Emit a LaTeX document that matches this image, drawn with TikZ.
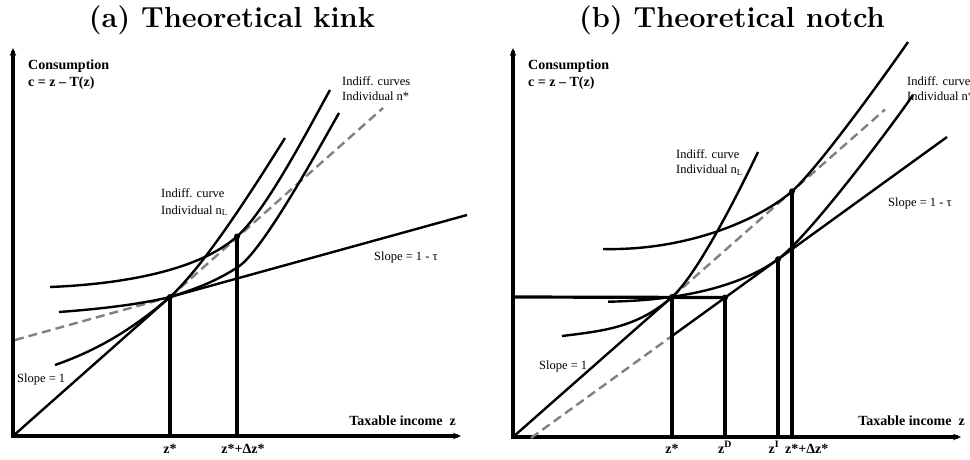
\documentclass[tikz,border=0pt]{standalone}
\usepackage{fontspec}
\newfontfamily\timesfont{Liberation Serif}
\usepackage{tikz}
\usetikzlibrary{arrows.meta}

\begin{document}
\begin{tikzpicture}[x=1pt, y=-1pt,
    axis/.style={line width=3.2pt, line cap=rect, -{Stealth[length=8pt,width=6.5pt]}},
    budget/.style={line width=2.4pt},
    icurve/.style={line width=2.4pt},
    extdash/.style={line width=2.4pt, black!50, dash pattern=on 9pt off 5pt},
    zline/.style={line width=3.2pt},
    dot/.style={circle, fill, inner sep=0pt, minimum size=6pt},
    lbl/.style={inner sep=0pt, anchor=base west, font=\timesfont\fontsize{12.5}{14}\selectfont},
    blbl/.style={inner sep=0pt, font=\timesfont\bfseries\fontsize{14}{16}\selectfont},
    ttl/.style={inner sep=0pt, anchor=base, font=\bfseries\fontsize{29}{32}\selectfont}]
    \useasboundingbox (0,0) rectangle (970,459);
    \clip (0,0) rectangle (970,459);

    % 标题
    \node[ttl] (ta) at (232,27) {(a) Theoretical kink};
    \node[ttl] (tb) at (732,27) {(b) Theoretical notch};

    %% (a) kink
    \coordinate (Oa) at (13,436);
    \coordinate (za) at (170,297);
    \coordinate (zda) at (237,236.5);

    % 坐标轴
    \draw[axis] (Oa) -- (13,48);
    \draw[axis] (Oa) -- (461,436);

    % 预算线与虚线延长
    \draw[budget] (Oa) -- (za) -- (467,215);
    \draw[extdash] (15,340) -- (za);
    \draw[extdash] (za) -- (383,108);

    % 无差异曲线
    \draw[icurve] (55,365) .. controls (95,351) and (130,331.4) .. (za)
        .. controls (205,265) and (255,186) .. (285,138);
    \draw[icurve] (59,312) .. controls (100,309) and (140,304.3) .. (za)
        .. controls (193,289.7) and (215,282) .. (238,267)
        .. controls (263,251) and (319,148) .. (339,113);
    \draw[icurve] (50,287) .. controls (100,285) and (192,276.3) .. (zda)
        .. controls (267,210) and (312,122) .. (330,90);

    % 竖线与点
    \foreach \p in {za,zda} {
        \draw[zline] (\p) -- (\p |- Oa);
        \node[dot] (d\p) at (\p) {};
    }

    % 文字
    \node[blbl, anchor=base west] (ya) at (28,69) {Consumption};
    \node[blbl, anchor=base west] (yb) at (28,86) {c = z – T(z)};
    \node[lbl] (ica) at (342,85) {Indiff. curves};
    \node[lbl] (icb) at (342,100.7) {Individual n*};
    \node[lbl] (nla) at (161,197.7) {Indiff. curve};
    \node[lbl] (nlb) at (161,214) {Individual n\textsubscript{L}};
    \node[lbl] (sta) at (374,260) {Slope = 1 - τ};
    \node[lbl] (soa) at (17,382.7) {Slope = 1};
    \node[blbl, anchor=base east] (xa) at (456,425) {Taxable income\ \ z};
    \node[blbl, anchor=base] (la1) at (170,453) {z*};
    \node[blbl, anchor=base] (la2) at (243,453) {z*+Δz*};

    %% (b) notch
    \coordinate (Ob) at (513,437);
    \coordinate (zb) at (672,297);
    \coordinate (zDb) at (725,297.5);
    \coordinate (zIb) at (778,259.2);
    \coordinate (zdb) at (792,191.3);

    % 坐标轴
    \draw[axis] (Ob) -- (513,48);
    \draw[axis] (Ob) -- (961,437);

    % 预算线与虚线延长
    \draw[budget] (Ob) -- (zb);
    \draw[zline] (513,297) -- (zDb);
    \draw[budget] (672,336) -- (947,137);
    \draw[extdash] (531,438) -- (672,336);
    \draw[extdash] (zb) -- (885,109.5);

    % 无差异曲线
    \draw[icurve] (562,336) .. controls (602,331) and (637,328) .. (zb)
        .. controls (697,275) and (738,194) .. (758,152);
    \draw[icurve] (608,301.7) .. controls (650,301) and (728,295.5) .. (zIb)
        .. controls (808,237.5) and (891,127) .. (913,95);
    \draw[icurve] (603,249) .. controls (690,251) and (762,217.7) .. (zdb)
        .. controls (817,169.3) and (883,78) .. (908,42);

    % 竖线与点
    \foreach \p in {zb,zDb,zIb,zdb} {
        \draw[zline] (\p) -- (\p |- Ob);
        \node[dot] (d\p) at (\p) {};
    }

    % 文字
    \node[blbl, anchor=base west] (yc) at (528,69) {Consumption};
    \node[blbl, anchor=base west] (yd) at (528,86) {c = z – T(z)};
    \node[lbl] (icc) at (907,85) {Indiff. curves};
    \node[lbl] (icd) at (907,100.7) {Individual n*};
    \node[lbl] (nlc) at (676,158) {Indiff. curve};
    \node[lbl] (nld) at (676,173.5) {Individual n\textsubscript{L}};
    \node[lbl] (stb) at (888,206) {Slope = 1 - τ};
    \node[lbl] (sob) at (539,369.3) {Slope = 1};
    \node[blbl, anchor=base east] (xb) at (965,425) {Taxable income\ \ z};
    \node[blbl, anchor=base] (lb1) at (672,453) {z*};
    \node[blbl, anchor=base] (lb2) at (725,453) {z\textsuperscript{D}};
    \node[blbl, anchor=base] (lb3) at (774,453) {z\textsuperscript{I}};
    \node[blbl, anchor=base west] (lb4) at (785,453) {z*+Δz*};
\end{tikzpicture}
\end{document}
